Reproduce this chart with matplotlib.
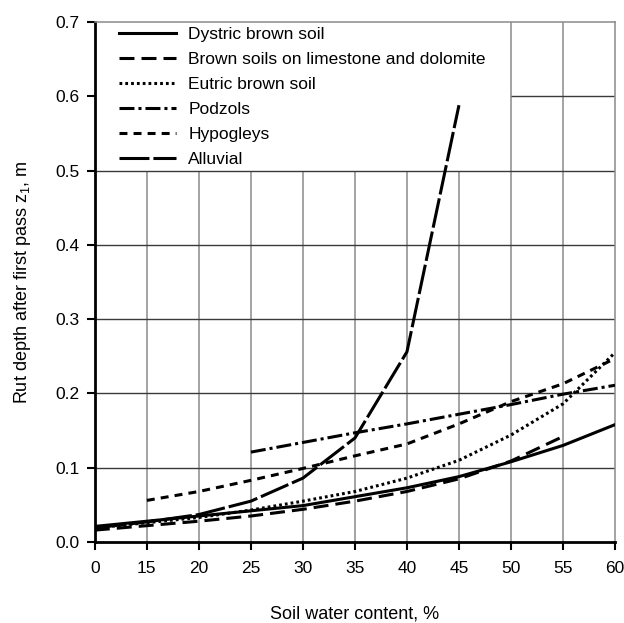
import matplotlib
matplotlib.use("Agg")
import matplotlib.pyplot as plt
from matplotlib import font_manager

# pick a narrow Arial-like font when it is there
names = {f.name for f in font_manager.fontManager.ttflist}
if "Liberation Sans Narrow" in names:
    plt.rcParams['font.family'] = ['Liberation Sans Narrow', 'DejaVu Sans']
else:
    plt.rcParams['font.family'] = ['Liberation Sans', 'DejaVu Sans']

# x axis is categorical: 0 then 15..60 at equal spacing
x_labels = [0, 15, 20, 25, 30, 35, 40, 45, 50, 55, 60]

dystric = [0.021, 0.028, 0.035, 0.042, 0.049, 0.061, 0.073, 0.088, 0.108, 0.130, 0.158]
limestone = [0.016, 0.022, 0.028, 0.035, 0.044, 0.055, 0.068, 0.085, 0.109, 0.142]
eutric = [0.019, 0.026, 0.033, 0.043, 0.055, 0.068, 0.086, 0.110, 0.144, 0.186, 0.255]
podzols_x = [25, 30, 35, 40, 45, 50, 55, 60]
podzols = [0.121, 0.134, 0.147, 0.159, 0.172, 0.185, 0.199, 0.211]
hypogleys_x = [15, 20, 25, 30, 35, 40, 45, 50, 55, 60]
hypogleys = [0.056, 0.068, 0.083, 0.099, 0.116, 0.132, 0.159, 0.189, 0.213, 0.247]
alluvial = [0.019, 0.027, 0.037, 0.055, 0.086, 0.140, 0.256, 0.588]

names_legend = ['Dystric brown soil', 'Brown soils on limestone and dolomite',
                'Eutric brown soil', 'Podzols', 'Hypogleys', 'Alluvial']

pos = {v: i for i, v in enumerate(x_labels)}

fig = plt.figure(figsize=(6.24, 6.23), dpi=100)
ax = fig.add_axes([0.152, 0.13, 0.8336, 0.8347])

# grid drawn by hand, the legend block hides part of it
for i in range(1, 10):
    top = 0.7 if i >= 8 else 0.5
    ax.vlines(i, 0, top, color='#8a8a8a', lw=1.1, zorder=1)
for yv in [0.1, 0.2, 0.3, 0.4, 0.5]:
    ax.hlines(yv, 0, 10, color='#3a3a3a', lw=1.0, zorder=1)
ax.hlines(0.6, 8, 10, color='#3a3a3a', lw=1.0, zorder=1)

lw = 2.2
ax.plot(range(len(dystric)), dystric, color='black', lw=lw, ls='-', label=names_legend[0], zorder=3)
ax.plot(range(len(limestone)), limestone, color='black', lw=lw, ls=(0, (4.9, 2.3)), label=names_legend[1], zorder=3)
ax.plot(range(len(eutric)), eutric, color='black', lw=lw, ls=(0, (0.9, 1.0)), label=names_legend[2], zorder=3)
ax.plot([pos[v] for v in podzols_x], podzols, color='black', lw=lw, ls=(0, (4.9, 1.3, 1.0, 1.3)), label=names_legend[3], zorder=3)
ax.plot([pos[v] for v in hypogleys_x], hypogleys, color='black', lw=lw, ls=(0, (2.6, 2.0)), label=names_legend[4], zorder=3)
ax.plot(range(len(alluvial)), alluvial, color='black', lw=lw, ls=(0, (9.8, 1.3)), label=names_legend[5], zorder=3)

ax.set_xlim(0, 10)
ax.set_ylim(0, 0.7)
ax.set_xticks(range(len(x_labels)))
ax.set_xticklabels([str(v) for v in x_labels])
ax.set_yticks([0.0, 0.1, 0.2, 0.3, 0.4, 0.5, 0.6, 0.7])
ax.set_yticklabels(['0.0', '0.1', '0.2', '0.3', '0.4', '0.5', '0.6', '0.7'])
ax.tick_params(axis='both', direction='out', length=6, width=1.5, labelsize=12.5, color='black')
ax.tick_params(axis='x', pad=8)
ax.tick_params(axis='y', pad=5)

ax.spines['left'].set_linewidth(2)
ax.spines['bottom'].set_linewidth(2)
ax.spines['top'].set_color('#8a8a8a')
ax.spines['right'].set_color('#8a8a8a')
ax.spines['top'].set_linewidth(1.1)
ax.spines['right'].set_linewidth(1.1)

ax.set_xlabel('Soil water content, %', fontsize=13, labelpad=21)
ax.set_ylabel('Rut depth after first pass z$_\\mathregular{1}$, m', fontsize=13, labelpad=16)

leg = ax.legend(loc='upper left', bbox_to_anchor=(0.046, 0.99), frameon=False,
                fontsize=12.5, handlelength=3.3, handletextpad=0.7, labelspacing=0.56,
                borderpad=0, borderaxespad=0)

fig.savefig('out.png', dpi=100)
